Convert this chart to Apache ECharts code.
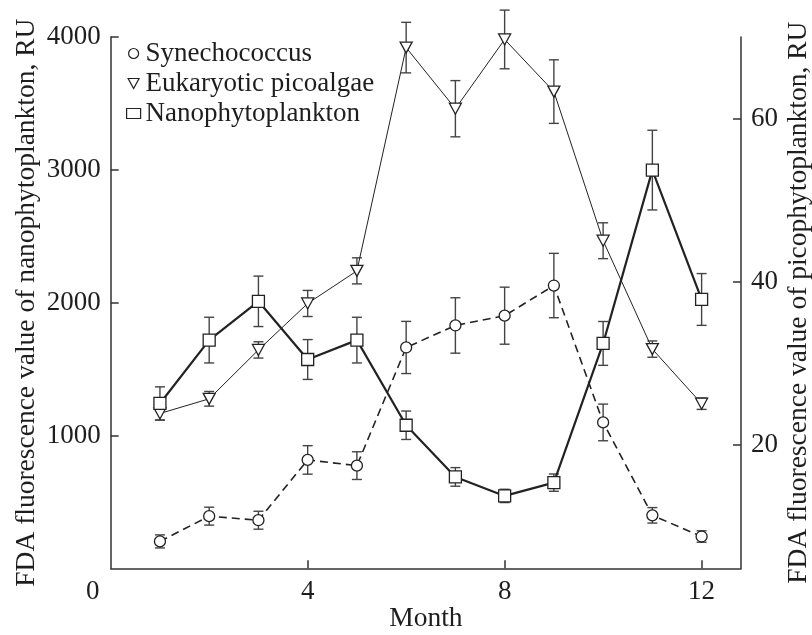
<!DOCTYPE html>
<html>
<head>
<meta charset="utf-8">
<script src="https://cdn.jsdelivr.net/npm/echarts@6/dist/echarts.min.js"></script>
<style>html,body{margin:0;padding:0;background:#fff}#c{width:812px;height:635px}</style>
</head>
<body>
<div id="c"></div>
<script>
const months = [1,2,3,4,5,6,7,8,9,10,11,12];
const synName = 'Synechococcus';
const eukName = 'Eukaryotic picoalgae';
const nanoName = 'Nanophytoplankton';
const syn    = [8.1, 11.2, 10.7, 18.1, 17.4, 31.9, 34.6, 35.8, 39.5, 22.7, 11.3, 8.7];
const synErr = [0.8, 1.1, 1.1, 1.75, 1.7, 3.2, 3.4, 3.5, 3.95, 2.25, 0.95, 0.7];
const euk    = [23.8, 25.6, 31.6, 37.3, 41.3, 68.7, 61.2, 69.7, 63.3, 45.0, 31.7, 25.0];
const eukErr = [0.8, 0.9, 1.0, 1.6, 1.6, 3.1, 3.45, 3.6, 3.9, 2.2, 1.0, 0.7];
const nano    = [1241, 1718, 2010, 1572, 1718, 1077, 688, 545, 645, 1693, 2998, 2024];
const nanoErr = [125, 172, 190, 150, 172, 107, 70, 50, 65, 165, 300, 195];
const xTickLabels = [0, 4, 8, 12];
const leftTicks = [1000, 2000, 3000, 4000];
const rightTicks = [20, 40, 60];
const xName = 'Month';
const leftName = 'FDA fluorescence value of nanophytoplankton, RU';
const rightName = 'FDA fluorescence value of picophytoplankton, RU';

const FONT = 'Liberation Serif';
const FS = 27;
const INK = '#1e1e1e';
const AX = '#333';
const triPath = 'path://M0,0L12,0L6,11Z';

function pairs(v){ return months.map((m,i)=>[m, v[i]]); }
function errs(v,e){ return months.map((m,i)=>[m, v[i]-e[i], v[i]+e[i]]); }
function errRender(params, api){
  const x = api.value(0), lo = api.value(1), hi = api.value(2);
  const p1 = api.coord([x, hi]), p2 = api.coord([x, lo]);
  const w = 5;
  const style = {stroke:'#444', lineWidth:1.4, fill:null};
  return {type:'group', children:[
    {type:'line', shape:{x1:p1[0],y1:p1[1],x2:p2[0],y2:p2[1]}, style},
    {type:'line', shape:{x1:p1[0]-w,y1:p1[1],x2:p1[0]+w,y2:p1[1]}, style},
    {type:'line', shape:{x1:p2[0]-w,y1:p2[1],x2:p2[0]+w,y2:p2[1]}, style}
  ]};
}
const axisCommon = {
  axisLine:{show:true, lineStyle:{color:AX, width:1.5}},
  axisTick:{show:true, inside:true, length:8, lineStyle:{color:AX, width:1.5}},
  splitLine:{show:false},
  nameMoveOverlap:false,
  axisLabel:{color:INK, fontFamily:FONT, fontSize:FS, margin:10, formatter:(v)=>String(v)},
  nameTextStyle:{color:INK, fontFamily:FONT, fontSize:27.5}
};
const chart = echarts.init(document.getElementById('c'), null, {renderer:'canvas'});
chart.setOption({
  animation:false,
  backgroundColor:'#fff',
  textStyle:{fontFamily:FONT},
  grid:{left:110.7, right:71, top:37, bottom:66.7, containLabel:false, outerBoundsMode:'none'},
  legend:{
    orient:'vertical', left:121, top:35, itemGap:3, itemWidth:14, itemHeight:10,
    textStyle:{color:INK, fontFamily:FONT, fontSize:FS},
    itemStyle:{color:'#fff', borderColor:'#222', borderWidth:1.2},
    data:[{name:synName, icon:'circle'},{name:eukName, icon:triPath},{name:nanoName, icon:'rect'}]
  },
  xAxis:Object.assign({}, axisCommon, {
    type:'value', min:0, max:12.8, interval:4,
    name:xName, nameLocation:'middle', nameGap:36,
    axisTick:Object.assign({}, axisCommon.axisTick, {customValues:xTickLabels.slice(1)}),
    axisLabel:Object.assign({}, axisCommon.axisLabel, {
      customValues:xTickLabels,
      formatter:(v)=> v===0 ? '{o|0}' : String(v),
      rich:{o:{fontFamily:FONT, fontSize:FS, color:INK, padding:[0,36,0,0]}}
    })
  }),
  yAxis:[
    Object.assign({}, axisCommon, {
      type:'value', min:0, max:4000, interval:1000, position:'left',
      name:leftName, nameLocation:'middle', nameRotate:90, nameGap:70,
      axisTick:Object.assign({}, axisCommon.axisTick, {customValues:leftTicks}),
      axisLabel:Object.assign({}, axisCommon.axisLabel, {customValues:leftTicks})
    }),
    Object.assign({}, axisCommon, {
      type:'value', min:4.8, max:70, position:'right',
      name:rightName, nameLocation:'middle', nameRotate:90, nameGap:44,
      axisTick:Object.assign({}, axisCommon.axisTick, {customValues:rightTicks}),
      axisLabel:Object.assign({}, axisCommon.axisLabel, {customValues:rightTicks})
    })
  ],
  series:[
    {type:'custom', yAxisIndex:1, renderItem:errRender, data:errs(syn,synErr), z:2, encode:{x:0, y:[1,2]}, silent:true},
    {type:'custom', yAxisIndex:1, renderItem:errRender, data:errs(euk,eukErr), z:2, encode:{x:0, y:[1,2]}, silent:true},
    {type:'custom', yAxisIndex:0, renderItem:errRender, data:errs(nano,nanoErr), z:2, encode:{x:0, y:[1,2]}, silent:true},
    {name:synName, type:'line', yAxisIndex:1, data:pairs(syn), z:3, clip:false,
     symbol:'circle', symbolSize:11, showAllSymbol:true,
     lineStyle:{color:'#222', width:1.6, type:[8,5]},
     itemStyle:{color:'#fff', borderColor:'#222', borderWidth:1.3}},
    {name:eukName, type:'line', yAxisIndex:1, data:pairs(euk), z:3, clip:false,
     symbol:triPath, symbolSize:[12,11], showAllSymbol:true,
     lineStyle:{color:'#222', width:1},
     itemStyle:{color:'#fff', borderColor:'#222', borderWidth:1.3}},
    {name:nanoName, type:'line', yAxisIndex:0, data:pairs(nano), z:3, clip:false,
     symbol:'rect', symbolSize:12, showAllSymbol:true,
     lineStyle:{color:'#222', width:2.2},
     itemStyle:{color:'#fff', borderColor:'#222', borderWidth:1.3}}
  ]
});
</script>
</body>
</html>
